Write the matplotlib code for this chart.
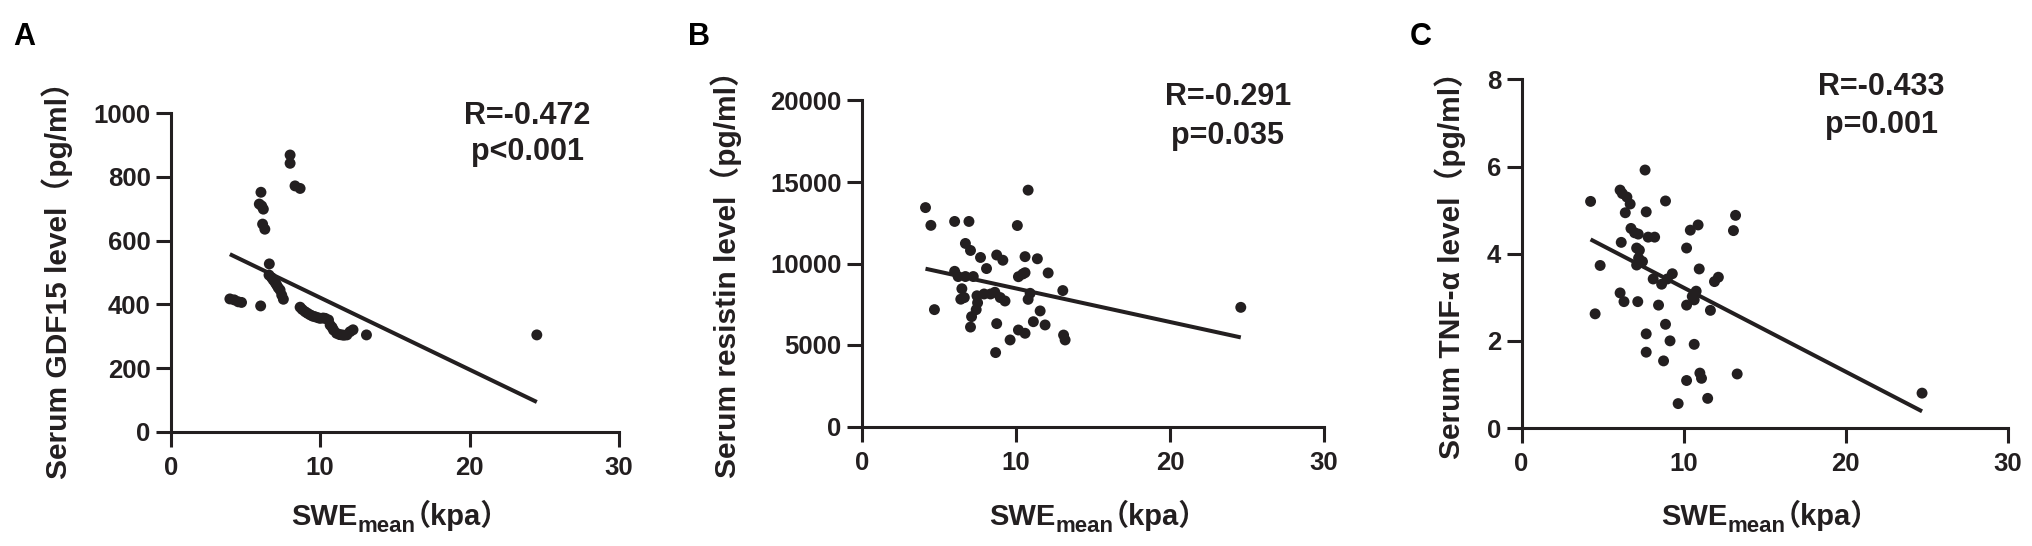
import numpy as np
import matplotlib
matplotlib.use("Agg")
import matplotlib.pyplot as plt
from matplotlib.transforms import IdentityTransform

# fonts: Arial-like bold, CJK family only for the fullwidth brackets
FAMILY = ['Liberation Sans', 'Noto Sans CJK SC']
INK = '#231f20'
plt.rcParams['font.family'] = FAMILY
plt.rcParams['font.weight'] = 'bold'

# ---- data ----
# A: GDF15
a_swe = [3.96, 4.25, 4.52, 4.74, 6.02, 6.04, 5.93, 6.09, 6.2, 6.15, 6.3, 6.6,
         6.58, 6.75, 6.87, 7.0, 7.09, 7.2, 7.32, 7.43, 7.54, 7.99, 7.99, 8.32, 8.66,
         8.66, 8.8, 8.99, 9.15, 9.33, 9.5, 9.66, 9.85, 10.0, 10.2, 10.34, 10.56,
         10.67, 10.8, 10.9, 11.1, 11.3, 11.45, 11.6, 11.79, 12.0, 12.2, 13.1, 24.5]
a_gdf = [417, 414, 408, 406, 395, 752, 715, 709, 699, 652, 636, 527,
         492, 484, 476, 468, 461, 452, 445, 429, 416, 869, 843, 772, 764,
         391, 384, 377, 372, 367, 363, 361, 358, 356, 357, 356, 351,
         335, 328, 319, 309, 305, 304, 303, 304, 314, 320, 304, 304]
a_fit = (-22.6, 647.0)      # slope, intercept of the drawn regression line
a_r, a_p = 'R=-0.472', 'p<0.001'

# B: resistin
b_swe = [4.14, 4.49, 4.72, 6.03, 6.96, 10.8, 10.1, 6.73, 7.06, 7.71, 8.1, 8.76,
         9.16, 10.6, 11.4, 12.1, 6.03, 6.26, 6.73, 7.24, 10.17, 10.45, 10.6, 6.5,
         6.66, 6.43, 7.48, 7.94, 8.36, 8.64, 8.99, 9.3, 10.93, 10.8, 13.05, 7.52,
         7.43, 7.13, 7.06, 8.76, 11.58, 11.14, 11.9, 10.17, 10.6, 9.63, 8.69, 13.1,
         13.2, 24.6]
b_res = [13430, 12340, 7170, 12580, 12580, 14500, 12330, 11230, 10800, 10370, 9690, 10520,
         10200, 10420, 10290, 9420, 9520, 9200, 9200, 9200, 9190, 9356, 9436, 8450,
         7910, 7810, 8020, 8130, 8130, 8235, 7910, 7700, 8170, 7800, 8340, 7590,
         7170, 6740, 6100, 6310, 7090, 6430, 6230, 5920, 5720, 5310, 4535, 5610,
         5310, 7310]
b_fit = (-206.0, 10533.0)
b_r, b_p = 'R=-0.291', 'p=0.035'

# C: TNF-alpha
c_swe = [4.26, 4.85, 4.54, 6.08, 6.22, 6.5, 6.7, 6.4, 7.62, 7.69, 8.88, 6.15,
         6.75, 6.98, 7.2, 7.81, 8.21, 7.1, 7.27, 7.22, 7.46, 7.1, 8.12, 8.64,
         8.99, 9.3, 6.08, 6.32, 7.17, 8.45, 7.69, 7.69, 8.88, 9.16, 8.76, 9.66,
         10.18, 10.65, 11.0, 11.1, 11.48, 10.18, 10.41, 10.89, 10.96, 10.18, 10.53, 10.77,
         10.65, 11.65, 11.9, 12.14, 13.2, 13.07, 13.3, 24.7]
c_tnf = [5.2, 3.73, 2.62, 5.46, 5.38, 5.3, 5.14, 4.94, 5.92, 4.96, 5.21, 4.26,
         4.58, 4.48, 4.45, 4.38, 4.38, 4.13, 4.08, 3.9, 3.82, 3.74, 3.42, 3.3,
         3.42, 3.54, 3.1, 2.9, 2.9, 2.82, 2.16, 1.74, 2.38, 2.0, 1.54, 0.56,
         1.09, 1.92, 1.26, 1.14, 0.68, 4.13, 4.54, 4.66, 3.65, 2.82, 3.02, 3.14,
         2.94, 2.7, 3.36, 3.46, 4.88, 4.53, 1.24, 0.8]
c_fit = (-0.193, 5.15)
c_r, c_p = 'R=-0.433', 'p=0.001'

x_ticks = [0, 10, 20, 30]
ylabels = ['Serum GDF15 level（pg/ml）', 'Serum resistin level（pg/ml）',
           'Serum TNF-α level（pg/ml）']
letters = ['A', 'B', 'C']

W, H = 2033, 546
fig = plt.figure(figsize=(W / 100, H / 100), dpi=100)
renderer = fig.canvas.get_renderer()

# axes boxes in pixels: left, top, right, bottom
boxes = [(170.7, 113.3, 619.0, 431.7),
         (861.7, 100.5, 1324.0, 426.5),
         (1521.5, 79.4, 2008.0, 428.0)]


def make_ax(box):
    l, t, r, b = box
    ax = fig.add_axes([l / W, (H - b) / H, (r - l) / W, (b - t) / H])
    for s in ['top', 'right']:
        ax.spines[s].set_visible(False)
    for s in ['left', 'bottom']:
        ax.spines[s].set_linewidth(2.2)
        ax.spines[s].set_color(INK)
    ax.tick_params(direction='out', length=10.5, width=2.2, color=INK,
                   labelsize=18.5, labelcolor=INK)
    ax.tick_params(axis='x', pad=7)
    ax.tick_params(axis='y', pad=4)
    ax.set_xlim(0, 30)
    ax.set_xticks(x_ticks)
    return ax


def scatter_fit(ax, x, y, fit):
    x = np.array(x)
    ax.scatter(x, y, s=62, color=INK, edgecolors='none', zorder=3, clip_on=False)
    xs = np.array([x.min(), x.max()])
    ax.plot(xs, fit[0] * xs + fit[1], color=INK, lw=2.9, solid_capstyle='butt', zorder=2)


def txt(x, y, s, size, **kw):
    return fig.text(x, y, s, transform=IdentityTransform(), fontsize=size,
                    fontweight='bold', family=FAMILY, color=INK, **kw)


axA = make_ax(boxes[0])
scatter_fit(axA, a_swe, a_gdf, a_fit)
axA.set_ylim(0, 1000)
axA.set_yticks([0, 200, 400, 600, 800, 1000])

axB = make_ax(boxes[1])
scatter_fit(axB, b_swe, b_res, b_fit)
axB.set_ylim(0, 20000)
axB.set_yticks([0, 5000, 10000, 15000, 20000])

axC = make_ax(boxes[2])
scatter_fit(axC, c_swe, c_tnf, c_fit)
axC.set_ylim(0, 8)
axC.set_yticks([0, 2, 4, 6, 8])

axes = [axA, axB, axC]

# R / p annotations (axes fraction, baseline)
notes = [(a_r, a_p, 0.795, 0.967, 0.853),
         (b_r, b_p, 0.792, 0.986, 0.867),
         (c_r, c_p, 0.740, 0.955, 0.845)]
for ax, (r, p, x, y1, y2) in zip(axes, notes):
    ax.text(x, y1, r, transform=ax.transAxes, ha='center', va='baseline',
            fontsize=22, fontweight='bold', color=INK)
    ax.text(x, y2, p, transform=ax.transAxes, ha='center', va='baseline',
            fontsize=22, fontweight='bold', color=INK)

# y labels, one string each, centred on measured pixel positions
ylab_pos = [(57.5, 273), (726.5, 267), (1450, 258)]
for lab, (px, py) in zip(ylabels, ylab_pos):
    txt(px, H - py, lab, 21.5, rotation=90, ha='center', va='center')

# panel letters
letter_x = [13, 688, 1410]
for lt, px in zip(letters, letter_x):
    fig.text(px, H - 45, lt, transform=IdentityTransform(), ha='left',
             va='baseline', fontsize=22, fontweight='bold', color='black')

# x labels: SWE + subscript "mean" + (kpa), composed piece by piece
XSIZE = 21
xem = XSIZE * 100 / 72
for ax in axes:
    bb = ax.get_position()
    cx = (bb.x0 + bb.x1) / 2 * W
    base = H - 525
    pieces = [('SWE', XSIZE, 0, 0), ('mean', 16, -6.5, 0), ('（kpa）', XSIZE, 0, -0.45 * xem)]
    texts = []
    for s, size, dy, dx in pieces:
        texts.append((txt(0, base + dy, s, size, ha='left', va='baseline'), dx))
    widths = [t.get_window_extent(renderer).width + dx for t, dx in texts]
    # trailing bearing of the closing fullwidth bracket is empty space
    x = cx - (sum(widths) - 0.4 * xem) / 2
    for (t, dx), w in zip(texts, widths):
        t.set_x(x + dx)
        x += w

fig.savefig('out.png', dpi=100)
